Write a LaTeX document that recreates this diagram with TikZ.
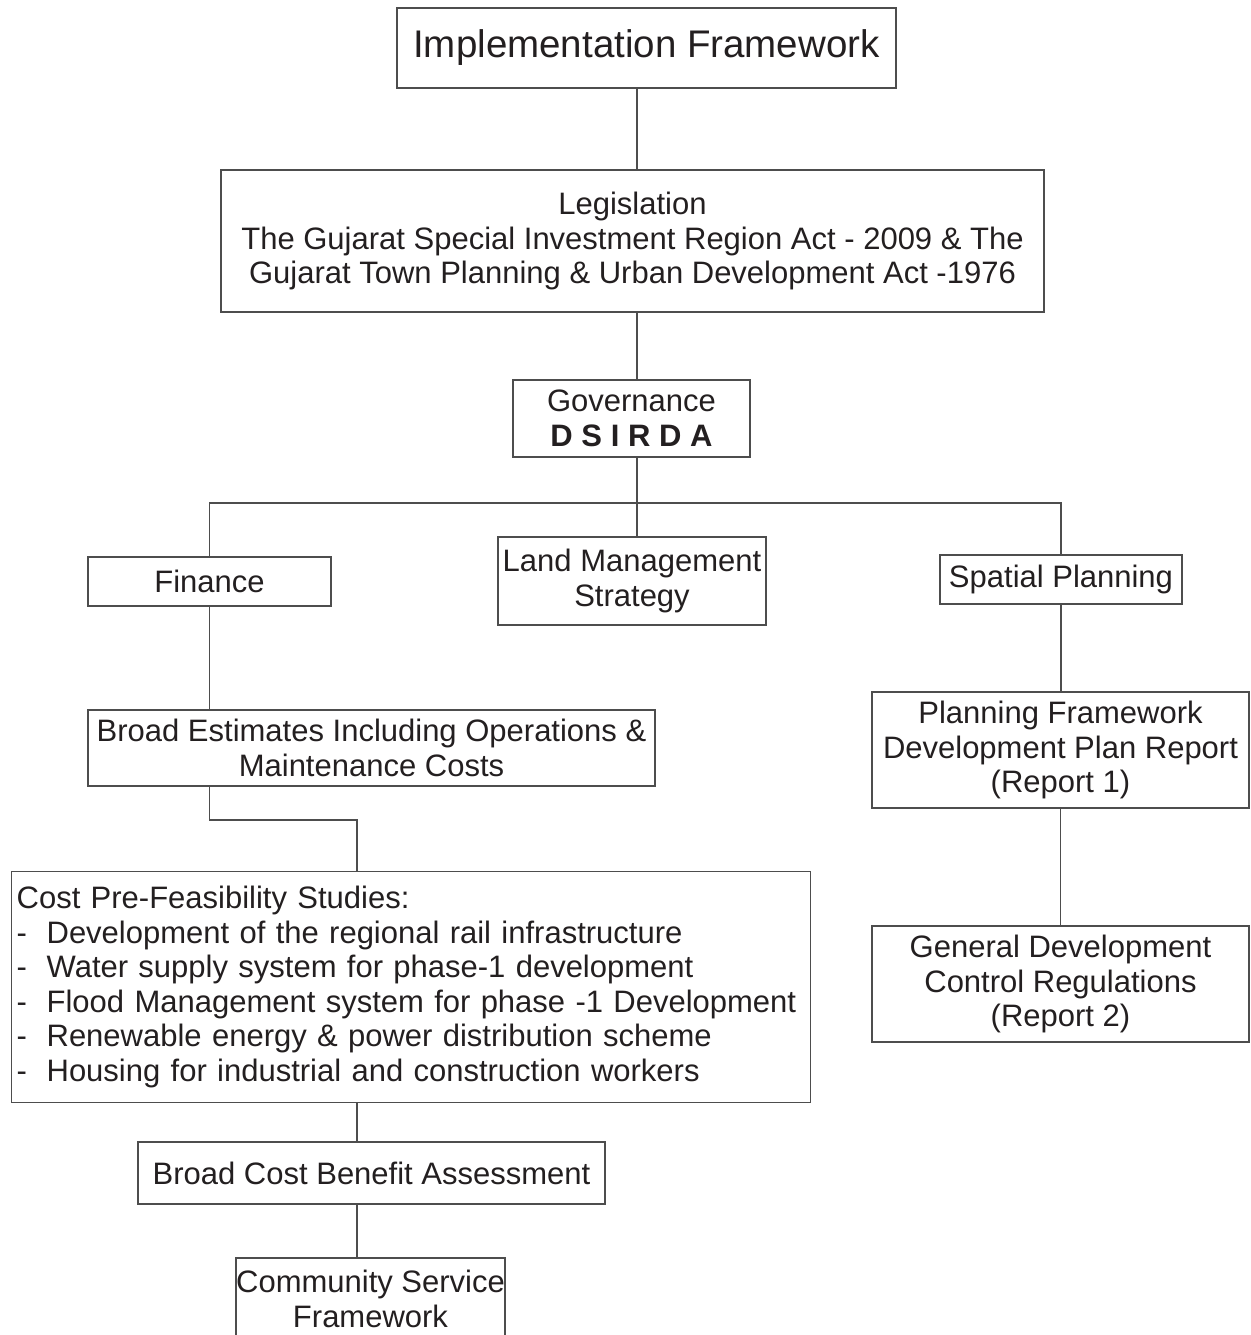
\documentclass[tikz,border=0pt]{standalone}
\usepackage{fontspec}
\setmainfont{Liberation Sans}
\definecolor{linegray}{HTML}{4D4D4D}
\definecolor{txt}{HTML}{231F20}
\newcommand{\dsp}{\hspace{0.28em}}
\begin{document}
\begin{tikzpicture}[x=1pt,y=-1pt,
  box/.style={draw=linegray,line width=1.3pt,inner sep=0pt,align=center,text=txt,
    font=\fontsize{31}{34.5}\selectfont},
  conn/.style={draw=linegray,line width=1.3pt}]
\useasboundingbox (0,0) rectangle (1250,1335);
\coordinate (trunk) at (637,0);
\coordinate (costx) at (357,0);
\coordinate (bar) at (0,503);
\coordinate (elbow) at (0,820);

\node[box,minimum width=499pt,minimum height=80pt,font=\fontsize{38.5}{44}\selectfont] (impl) at (646.5,48) {Implementation Framework};
\node[box,minimum width=823pt,minimum height=142pt] (legis) at (632.5,241)
  {Legislation\\The Gujarat Special Investment Region Act - 2009 \& The\\Gujarat Town Planning \& Urban Development Act -1976};
\node[box,minimum width=237pt,minimum height=77pt] (gov) at (631.5,418.5)
  {Governance\\\textbf{D\dsp S\dsp I\dsp R\dsp D\dsp A}};
\node[box,minimum width=243pt,minimum height=49pt] (fin) at (209.5,581.5) {Finance};
\node[box,minimum width=268pt,minimum height=88pt] (land) at (632,581) {Land Management\\Strategy};
\node[box,minimum width=242pt,minimum height=49pt] (spat) at (1061,579.5) {Spatial Planning};
\node[box,minimum width=567pt,minimum height=76pt] (broad) at (371.5,748)
  {Broad Estimates Including Operations \&\\Maintenance Costs};
\node[box,anchor=north west,minimum width=799pt,minimum height=231pt,text width=789pt,inner xsep=5pt,align=left] (cost) at (11,871)
  {Cost Pre-Feasibility Studies:\\
   \makebox[30pt][l]{-}Development of the regional rail infrastructure\\
   \makebox[30pt][l]{-}Water supply system for phase-1 development\\
   \makebox[30pt][l]{-}Flood Management system for phase -1 Development\\
   \makebox[30pt][l]{-}Renewable energy \& power distribution scheme\\
   \makebox[30pt][l]{-}Housing for industrial and construction workers};
\node[box,minimum width=467pt,minimum height=62pt] (cba) at (371.5,1173) {Broad Cost Benefit Assessment};
\node[box,minimum width=269pt,minimum height=82pt] (comm) at (370.5,1299) {Community Service\\Framework};
\node[box,minimum width=377pt,minimum height=116pt] (plan) at (1060.5,750)
  {Planning Framework\\Development Plan Report\\(Report 1)};
\node[box,minimum width=377pt,minimum height=116pt] (gen) at (1060.5,984)
  {General Development\\Control Regulations\\(Report 2)};

\draw[conn] (impl.south -| trunk) -- (legis.north -| trunk);
\draw[conn] (legis.south -| trunk) -- (gov.north -| trunk);
\draw[conn] (gov.south -| trunk) -- (land.north -| trunk);
\draw[conn] (fin.north) -- (fin.north |- bar) -- (spat.north |- bar) -- (spat.north);
\draw[conn] (fin.south) -- (broad.north -| fin.south);
\draw[conn] (broad.south -| fin.south) -- (elbow -| fin.south) -- (elbow -| costx) -- (cost.north -| costx);
\draw[conn] (cost.south -| costx) -- (cba.north -| costx);
\draw[conn] (cba.south -| costx) -- (comm.north -| costx);
\draw[conn] (spat.south) -- (plan.north -| spat.south);
\draw[conn] (plan.south) -- (gen.north);
\end{tikzpicture}
\end{document}
